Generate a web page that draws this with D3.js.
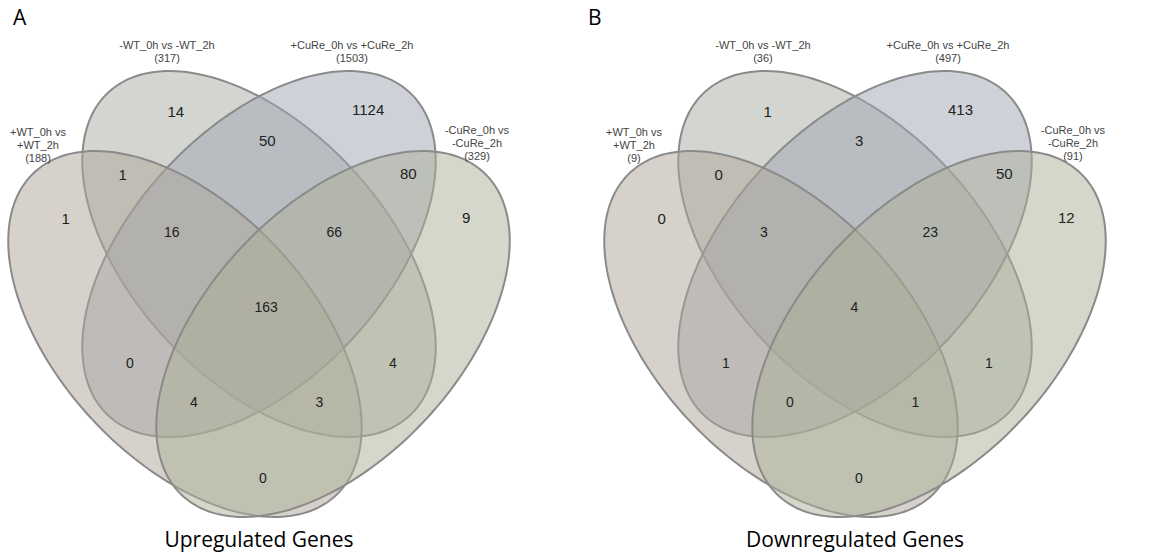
<!DOCTYPE html>
<html>
<head>
<meta charset="utf-8">
<script src="https://cdn.jsdelivr.net/npm/d3@7"></script>
<style>
  body { margin: 0; background: #fff; }
</style>
</head>
<body>
<div id="chart"></div>
<script>
// sets, in order A (+WT), B (-WT), C (+CuRe), D (-CuRe)
var setKeys = ['A', 'B', 'C', 'D'];
var setNames = [['+WT_0h vs', '+WT_2h'], ['-WT_0h vs -WT_2h'], ['+CuRe_0h vs +CuRe_2h'], ['-CuRe_0h vs', '-CuRe_2h']];

// venn regions and the gene counts in each one
var regions = ['A', 'B', 'C', 'D', 'AB', 'BC', 'CD', 'AC', 'BD', 'AD', 'ABC', 'BCD', 'ACD', 'ABD', 'ABCD'];
var upCounts = [1, 14, 1124, 9, 1, 50, 80, 0, 4, 0, 16, 66, 4, 3, 163];
var downCounts = [0, 1, 413, 12, 0, 3, 50, 1, 1, 0, 3, 23, 0, 1, 4];

var panelTitles = ['Upregulated Genes', 'Downregulated Genes'];
var panelLetters = ['A', 'B'];

var width = 1173, height = 556;
var panelCenters = [259, 855];
var letterX = [13, 588];
var cy = 254, sx = 620, sy = 642;

// ellipse layout in unit space (y up), a = semi major, b = semi minor
var ellipseA = 0.35, ellipseB = 0.2;
var shapes = {
  A: {x: 0.3806, y: 0.4454, rot: -45, fill: 'rgb(173,165,152)'},
  B: {x: 0.5, y: 0.57, rot: -45, fill: 'rgb(167,173,161)'},
  C: {x: 0.5, y: 0.57, rot: 45, fill: 'rgb(160,163,180)'},
  D: {x: 0.6194, y: 0.4454, rot: 45, fill: 'rgb(172,176,152)'}
};
var drawOrder = ['B', 'C', 'A', 'D'];

// where each region count sits (left edge of text, baseline) in unit space
var regionPos = {
  A: [0.1815, 0.6167], B: [0.3524, 0.7834], C: [0.6500, 0.7865], D: [0.8274, 0.6183],
  AB: [0.2734, 0.6853], BC: [0.5000, 0.7382], CD: [0.7274, 0.6868],
  AC: [0.2855, 0.3924], BD: [0.7097, 0.3924], AD: [0.5000, 0.2133],
  ABC: [0.3468, 0.5965], BCD: [0.6089, 0.5965], ACD: [0.3887, 0.3317], ABD: [0.5911, 0.3317],
  ABCD: [0.4927, 0.4797]
};
var bigRegions = ['A', 'B', 'C', 'D', 'AB', 'BC', 'CD'];

// set name labels (centre, first baseline) in unit space
var setLabelPos = {A: [0.1435, 0.7538], B: [0.3516, 0.8893], C: [0.6500, 0.8893], D: [0.8516, 0.7569]};

var svg = d3.select('#chart')
  .append('svg')
  .attr('width', width)
  .attr('height', height);

function drawPanel(i, counts) {
  var cx = panelCenters[i];
  var x = d3.scaleLinear().domain([0, 1]).range([cx - sx / 2, cx + sx / 2]);
  var y = d3.scaleLinear().domain([0, 1]).range([cy + 0.57 * sy, cy - 0.43 * sy]);

  var g = svg.append('g').attr('class', 'panel');

  var line = d3.line()
    .x(d => x(d[0]))
    .y(d => y(d[1]))
    .curve(d3.curveLinearClosed);

  function ellipsePoints(s) {
    var r = s.rot * Math.PI / 180;
    return d3.range(0, 2 * Math.PI, Math.PI / 90).map(function(t) {
      var ex = ellipseA * Math.cos(t), ey = ellipseB * Math.sin(t);
      return [s.x + ex * Math.cos(r) - ey * Math.sin(r), s.y + ex * Math.sin(r) + ey * Math.cos(r)];
    });
  }

  g.selectAll('path.set')
    .data(drawOrder)
    .enter()
    .append('path')
    .attr('class', 'set')
    .attr('d', k => line(ellipsePoints(shapes[k])))
    .attr('fill', k => shapes[k].fill)
    .attr('fill-opacity', 0.5)
    .attr('stroke', '#8a8a8a')
    .attr('stroke-width', 2);

  g.selectAll('text.count')
    .data(regions)
    .enter()
    .append('text')
    .attr('class', 'count')
    .attr('x', k => x(regionPos[k][0]))
    .attr('y', k => y(regionPos[k][1]))
    .attr('fill', '#222')
    .style('font-family', 'Liberation Sans, Arial, sans-serif')
    .style('font-size', k => bigRegions.indexOf(k) >= 0 ? '15px' : '14px')
    .text((k, j) => counts[j]);

  // totals per set
  var totals = setKeys.map(s => d3.sum(regions, (k, j) => k.indexOf(s) >= 0 ? counts[j] : 0));

  var labels = g.selectAll('text.setname')
    .data(setKeys)
    .enter()
    .append('text')
    .attr('class', 'setname')
    .attr('text-anchor', 'middle')
    .attr('fill', '#444')
    .style('font-family', 'Liberation Sans, Arial, sans-serif')
    .style('font-size', '11px');

  labels.each(function(s, j) {
    var el = d3.select(this);
    var lines = setNames[j].concat(['(' + totals[j] + ')']);
    lines.forEach(function(l, n) {
      el.append('tspan')
        .attr('x', x(setLabelPos[s][0]))
        .attr('y', y(setLabelPos[s][1]))
        .attr('dy', (n * 1.2) + 'em')
        .text(l);
    });
  });

  g.append('text')
    .attr('x', x(0.5))
    .attr('y', y(0.1136))
    .attr('text-anchor', 'middle')
    .attr('fill', '#000')
    .style('font-family', 'Open Sans, sans-serif')
    .style('font-size', '21px')
    .text(panelTitles[i]);

  g.append('text')
    .attr('x', letterX[i])
    .attr('y', 25)
    .attr('fill', '#000')
    .style('font-family', 'Open Sans, sans-serif')
    .style('font-size', '21px')
    .text(panelLetters[i]);
}

drawPanel(0, upCounts);
drawPanel(1, downCounts);
</script>
</body>
</html>
